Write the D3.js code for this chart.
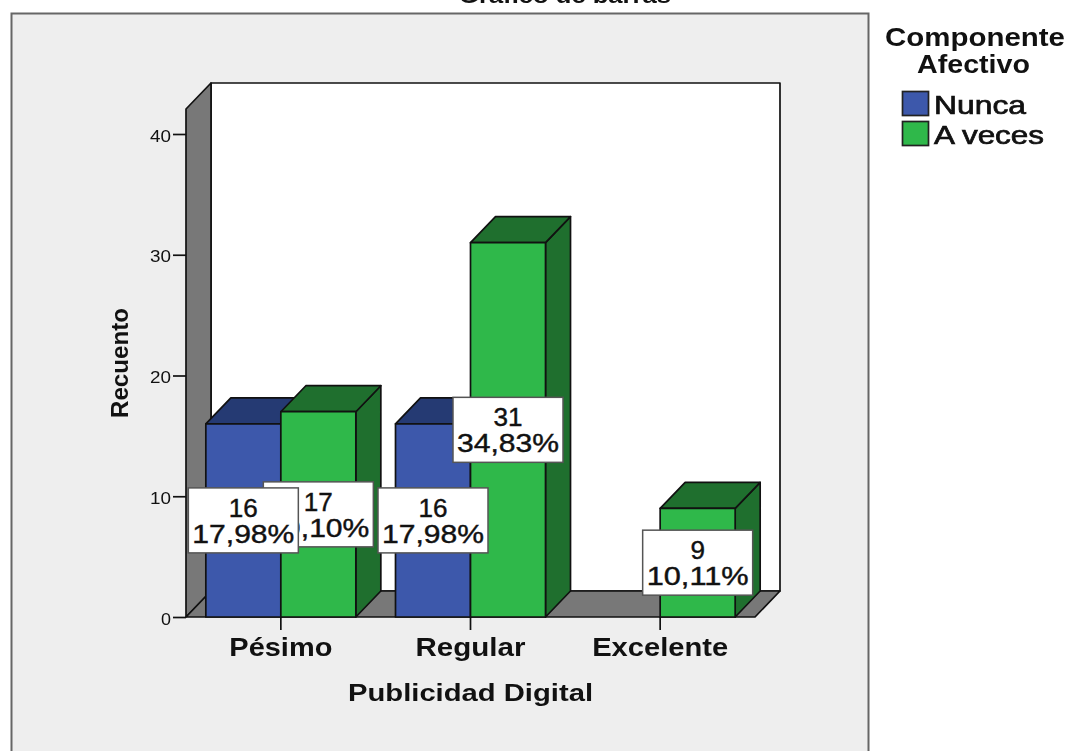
<!DOCTYPE html>
<html>
<head>
<meta charset="utf-8">
<script src="https://cdn.jsdelivr.net/npm/d3@7"></script>
<style>
html,body{margin:0;padding:0;background:#fff;overflow:hidden}
svg{display:block;filter:blur(0.45px)}
text{font-family:"Liberation Sans",Arial,sans-serif;fill:#111}
</style>
</head>
<body>
<svg id="chart" width="1069" height="751"></svg>
<script>
const categories = ["Pésimo", "Regular", "Excelente"];
const seriesNames = ["Nunca", "A veces"];
const nunca = [16, 16, null];
const aVeces = [17, 31, 9];
const nuncaPct = ["17,98%", "17,98%", null];
const aVecesPct = ["19,10%", "34,83%", "10,11%"];
const yTicks = [0, 10, 20, 30, 40];
const colors = {
  "Nunca": {front: "#3d58ab", top: "#253a73", side: "#253a73"},
  "A veces": {front: "#2fb84a", top: "#1f6f2e", side: "#1f6f2e"}
};
const titleText = "Gráfico de barras";
const xTitle = "Publicidad Digital";
const yTitle = "Recuento";
const legendTitle = ["Componente", "Afectivo"];

const W = 1069, H = 751;
const dx = 25, dy = 26;
const plot = {left: 186, right: 755, top: 109, bottom: 617};
const svg = d3.select("#chart");

const x = d3.scaleBand().domain(categories).range([plot.left, plot.right]).padding(0);
const y = d3.scaleLinear().domain([0, 42.07]).range([plot.bottom, plot.top]);
const sub = d3.scaleBand().domain(seriesNames).range([0, 150]);
const barOffset = (x.bandwidth() - 150) / 2;

function poly(g, pts, fill, sw, stroke) {
  return g.append("polygon").attr("points", pts.map(p => p.join(",")).join(" "))
    .attr("fill", fill).attr("stroke", stroke || "#111").attr("stroke-width", sw || 1.7)
    .attr("stroke-linejoin", "round");
}
function label(g, str, px, py, size, weight, w, anchor) {
  const t = g.append("text").attr("x", px).attr("y", py).attr("font-size", size)
    .attr("font-weight", weight).attr("text-anchor", anchor || "middle").text(str);
  if (w) t.attr("textLength", w).attr("lengthAdjust", "spacingAndGlyphs");
  return t;
}

// outer frame (runs past the bottom of the picture)
svg.append("rect").attr("x", 11.5).attr("y", 13.5).attr("width", 857).attr("height", H + 20)
  .attr("fill", "#eeeeee").attr("stroke", "#666666").attr("stroke-width", 2);

label(svg, titleText, 565, 3, 22, "bold", 212);

// 3D walls
const walls = svg.append("g");
const b = plot.bottom, t = plot.top, l = plot.left, r = plot.right;
poly(walls, [[l + dx, t - dy], [r + dx, t - dy], [r + dx, b - dy], [l + dx, b - dy]], "#ffffff");
poly(walls, [[l, b], [l, t], [l + dx, t - dy], [l + dx, b - dy]], "#787878");
poly(walls, [[l, b], [l + dx, b - dy], [r + dx, b - dy], [r, b]], "#787878");

// y axis
const yAxis = svg.append("g").attr("transform", `translate(${l},0)`)
  .call(d3.axisLeft(y).tickValues(yTicks).tickSize(13).tickPadding(2).tickFormat(d3.format("d")));
yAxis.select(".domain").remove();
yAxis.selectAll("line").attr("stroke", "#111").attr("stroke-width", 1.7);
yAxis.selectAll("text").attr("font-size", 17).attr("font-family", '"Liberation Sans",Arial,sans-serif')
  .attr("fill", "#222").attr("dy", "0.42em")
  .attr("textLength", d => d === 0 ? 10 : 21).attr("lengthAdjust", "spacingAndGlyphs");

// x axis ticks and labels
const xAxis = svg.append("g").attr("transform", `translate(0,${b})`)
  .call(d3.axisBottom(x).tickSize(13).tickPadding(14).tickFormat(""));
xAxis.select(".domain").remove();
xAxis.selectAll("line").attr("stroke", "#111").attr("stroke-width", 1.7);
const catWidths = [103, 110, 136];
categories.forEach((c, i) => {
  label(svg, c, x(c) + x.bandwidth() / 2, 656, 25, "bold", catWidths[i]);
});

// bars
const series = [
  {name: "Nunca", values: nunca, pct: nuncaPct},
  {name: "A veces", values: aVeces, pct: aVecesPct}
];
const barsG = svg.append("g");
const labelsG = svg.append("g");
const labelData = [];
series.forEach(s => {
  categories.forEach((c, i) => {
    const v = s.values[i];
    if (v == null) return;
    const x0 = x(c) + barOffset + sub(s.name), x1 = x0 + sub.bandwidth();
    const yt = y(v), yb = y(0), col = colors[s.name];
    const g = barsG.append("g");
    poly(g, [[x1, yb], [x1, yt], [x1 + dx, yt - dy], [x1 + dx, yb - dy]], col.side);
    poly(g, [[x0, yt], [x0 + dx, yt - dy], [x1 + dx, yt - dy], [x1, yt]], col.top);
    poly(g, [[x0, yb], [x0, yt], [x1, yt], [x1, yb]], col.front);
    labelData.push({v, pct: s.pct[i], cx: (x0 + x1) / 2, cy: (yt + yb) / 2, name: s.name});
  });
});

// value labels: later series below earlier ones
labelData.slice().reverse().forEach(d => {
  const g = labelsG.append("g").attr("transform", `translate(${d.cx},${d.cy})`);
  g.append("rect").attr("x", -55).attr("y", -32.5).attr("width", 110).attr("height", 65)
    .attr("fill", "#fff").attr("stroke", "#555").attr("stroke-width", 1.5);
  label(g, String(d.v), 0, -3.5, 25, "normal", String(d.v).length * 14.5)
    .style("stroke", "#111").style("stroke-width", 0.4);
  label(g, d.pct, 0, 22.5, 25, "normal", 102).style("stroke", "#111").style("stroke-width", 0.4);
});

// axis titles
label(svg, xTitle, 470.5, 701, 24, "bold", 245);
label(svg, yTitle, 0, 0, 23, "bold", 110).attr("transform", "translate(128,363) rotate(-90)");

// legend
label(svg, legendTitle[0], 975, 46, 25, "bold", 180);
label(svg, legendTitle[1], 973.5, 73, 25, "bold", 113);
seriesNames.forEach((n, i) => {
  const yy = 91.5 + i * 30;
  svg.append("rect").attr("x", 902.5).attr("y", yy).attr("width", 26).attr("height", 24)
    .attr("fill", colors[n].front).attr("stroke", "#222").attr("stroke-width", 1.7);
  label(svg, n, 934, yy + 22, 26, "normal", [92, 110][i], "start")
    .style("stroke", "#111").style("stroke-width", 0.7);
});
</script>
</body>
</html>
